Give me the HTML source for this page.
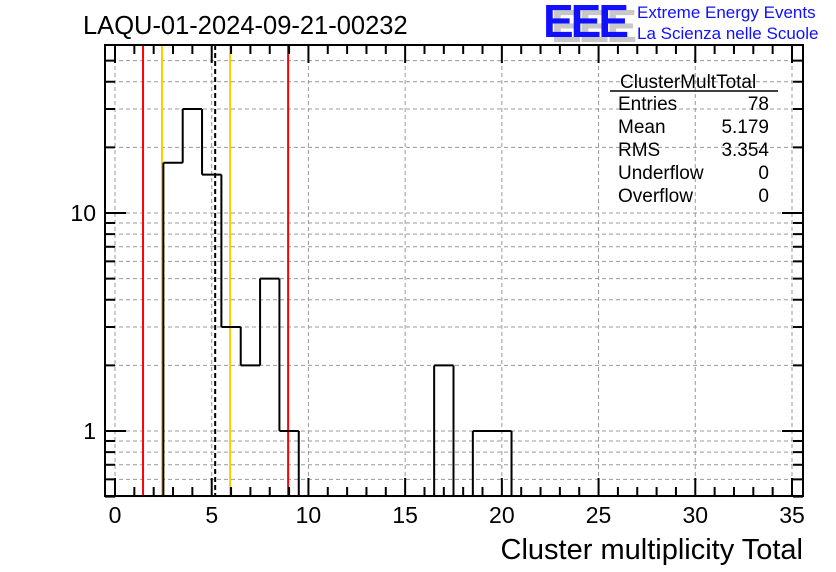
<!DOCTYPE html>
<html><head><meta charset="utf-8"><style>
html,body{margin:0;padding:0;background:#fff;}
svg{display:block;font-family:"Liberation Sans",sans-serif;}
</style></head><body>
<svg id="c" width="836" height="572" viewBox="0 0 836 572">
<rect width="836" height="572" fill="#fff"/>
<text x="83" y="34" font-size="25.5">LAQU-01-2024-09-21-00232</text>
<g>
<text x="551" y="42" font-size="46" font-weight="bold" fill="#c8c8c8" letter-spacing="-3">EEE</text>
<text x="543" y="37" font-size="46" font-weight="bold" fill="#1010ff" letter-spacing="-3">EEE</text>
<text x="637" y="18" font-size="17" fill="#1010ff">Extreme Energy Events</text>
<text x="637" y="39" font-size="17" fill="#1010ff">La Scienza nelle Scuole</text>
</g>
<g id="grid"></g><g id="marks"></g><g id="axes"></g>
<g font-size="19">
<text x="620" y="88">ClusterMultTotal</text>
<line x1="610" y1="91" x2="778" y2="91" stroke="#000" stroke-width="1.5"/>
<text x="618" y="110">Entries</text><text x="769" y="110" text-anchor="end">78</text>
<text x="618" y="133">Mean</text><text x="769" y="133" text-anchor="end">5.179</text>
<text x="618" y="156">RMS</text><text x="769" y="156" text-anchor="end">3.354</text>
<text x="618" y="179">Underflow</text><text x="769" y="179" text-anchor="end">0</text>
<text x="618" y="202">Overflow</text><text x="769" y="202" text-anchor="end">0</text>
</g>
<text x="803" y="559" font-size="29" text-anchor="end">Cluster multiplicity Total</text>
</svg>
<script>
const binCenters=[3,4,5,6,7,8,9,17,19,20];
const binCounts=[17,30,15,3,2,5,1,2,1,1];
const xTicks=[0,5,10,15,20,25,30,35];
const yTicks=[1,10];
const redLines=[1.45,8.95];
const orangeLines=[2.43,5.95];
const meanLine=[5.179];
const L=105,R=803,T=45,B=496;
const X=v=>115+v*(677/35);
const Y=v=>431-Math.log10(v)*218;
const ns="http://www.w3.org/2000/svg";
function mk(p,tag,a){const e=document.createElementNS(ns,tag);for(const k in a)e.setAttribute(k,a[k]);p.appendChild(e);return e;}
const g=document.getElementById('grid'),m=document.getElementById('marks'),ax=document.getElementById('axes');
xTicks.forEach(t=>{const l=mk(g,'line',{x1:X(t),x2:X(t),y1:T,y2:B,stroke:'#999','stroke-dasharray':'4,3','stroke-width':1});

});
const yMinor=[];for(let d of [0.1,1,10])for(let k=1;k<10;k++){const v=k*d;if(v>=0.5&&v<=59)yMinor.push(v);}
yMinor.forEach(v=>{const l=mk(g,'line',{x1:L,x2:R,y1:Y(v),y2:Y(v),stroke:'#999','stroke-dasharray':'4,3','stroke-width':1});

});
redLines.forEach(v=>{const l=mk(m,'line',{x1:X(v),x2:X(v),y1:T,y2:B,stroke:'#ff0000','stroke-width':2});

});
orangeLines.forEach(v=>{const l=mk(m,'line',{x1:X(v),x2:X(v),y1:T,y2:B,stroke:'#ffcc00','stroke-width':2});

});
meanLine.forEach(v=>{const l=mk(m,'line',{x1:X(v),x2:X(v),y1:T,y2:B,stroke:'#000','stroke-width':2,'stroke-dasharray':'5,3'});

});
const cnt={};binCenters.forEach((c,i)=>cnt[c]=binCounts[i]);
let d='',prev=0;
for(let c=0;c<=36;c++){const v=cnt[c]||0;const xe=X(c-0.5);
 if(v!==prev){const y0=prev>0?Y(prev):B,y1=v>0?Y(v):B;d+=`M${xe},${y0}L${xe},${y1}`;}
 if(v>0)d+=`M${xe},${Y(v)}L${X(c+0.5)},${Y(v)}`;prev=v;}
const h=mk(m,'path',{d:d,stroke:'#000','stroke-width':2,fill:'none'});


const f=mk(ax,'rect',{x:L,y:T,width:R-L,height:B-T,fill:'none',stroke:'#000','stroke-width':2});


for(let v=0;v<=35;v++){const big=v%5===0,len=big?18:9;
 mk(ax,'line',{x1:X(v),x2:X(v),y1:B,y2:B-len,stroke:'#000','stroke-width':2});
 mk(ax,'line',{x1:X(v),x2:X(v),y1:T,y2:T+len,stroke:'#000','stroke-width':2});}
xTicks.forEach(t=>{const tx=mk(ax,'text',{x:X(t),y:523,'font-size':23,'text-anchor':'middle'});tx.textContent=t;

});
yMinor.forEach(v=>{const big=(v===1||v===10),len=big?21:10;
 mk(ax,'line',{x1:L,x2:L+len,y1:Y(v),y2:Y(v),stroke:'#000','stroke-width':2});
 mk(ax,'line',{x1:R,x2:R-len,y1:Y(v),y2:Y(v),stroke:'#000','stroke-width':2});});
yTicks.forEach(t=>{const tx=mk(ax,'text',{x:96,y:Y(t)+8,'font-size':23,'text-anchor':'end'});tx.textContent=t;

});
</script>
</body></html>
